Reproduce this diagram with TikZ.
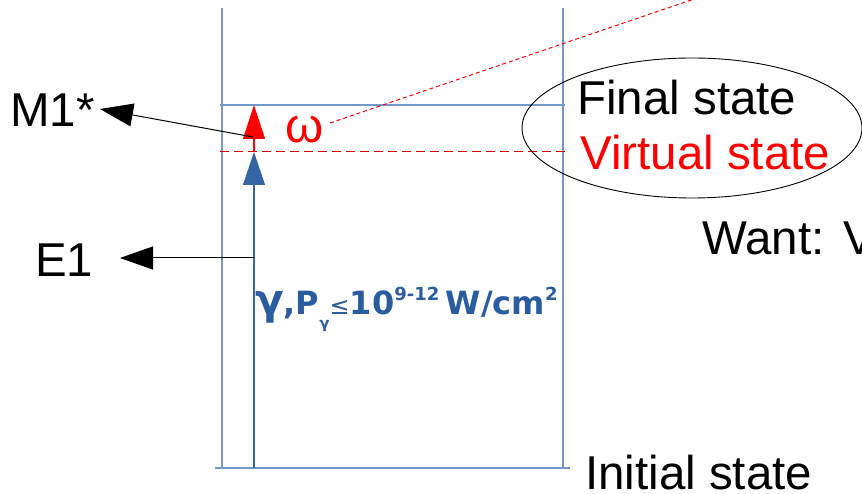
\documentclass[tikz,border=0pt]{standalone}
\usepackage{fontspec}
\setmainfont{Liberation Sans}
\newfontfamily\dvfont{DejaVu Sans}
\usetikzlibrary{arrows.meta,shapes.geometric}
\definecolor{gridblue}{RGB}{114,152,204}
\definecolor{arrblue}{RGB}{52,101,164}
\definecolor{txtblue}{RGB}{42,93,159}
\begin{document}
\begin{tikzpicture}[x=1pt,y=-1pt,
  gridline/.style={draw=gridblue,line width=1.2pt},
  lbl/.style={inner sep=0pt,anchor=base west,font=\fontsize{47.5pt}{50pt}\selectfont},
  bigtip/.style={-{Triangle[length=33pt,width=23pt]}}]
\useasboundingbox (0,0) rectangle (862,494);
\clip (0,0) rectangle (862,494);
% frame lines
\draw[gridline] (222,8) -- (222,468);
\draw[gridline] (563,8) -- (563,468);
\draw[gridline] (215,468) -- (570,468);
\draw[gridline] (220,105) -- (565,105);
\draw[red!85!black,line width=0.8pt,dash pattern=on 9pt off 5pt] (220,151) -- (565,151);
% coordinates
\coordinate (bot) at (254,468);
\coordinate (virt) at (254,152);
\coordinate (fin) at (254,105);
\coordinate (m1s) at (253,137);
\coordinate (m1tip) at (100,109);
\coordinate (e1s) at (254,258);
\coordinate (e1tip) at (120,258);
\coordinate (dotA) at (330,123);
\coordinate (dotB) at (700,-3);
% arrows
\draw[arrblue,line width=1.2pt,-{Triangle[length=33pt,width=22pt]}] (bot) -- (virt);
\draw[red,line width=1.2pt,-{Triangle[length=34pt,width=22pt]}] (virt) -- (fin);
\draw[black,line width=1pt,bigtip] (m1s) -- (m1tip);
\draw[black,line width=1pt,bigtip] (e1s) -- (e1tip);
\draw[red,line width=1pt,dash pattern=on 4pt off 3pt] (dotA) -- (dotB);
% ellipse
\node[draw,ellipse,line width=0.9pt,minimum width=340pt,minimum height=140pt,inner sep=0pt] (ell) at (692,128) {};
% labels
\node[lbl] (final) at (577,115) {Final state};
\node[lbl,text=red] (virtual) at (580,170) {Virtual state};
\node[lbl] (initial) at (585,489) {Initial state};
\node[lbl] (want) at (702,255) {Want:\hspace{0.4em}V};
\node[lbl] (m1) at (10,127) {M1*};
\node[lbl] (e1) at (35,277) {E1};
\node[inner sep=0pt,anchor=base west,text=red,font=\fontsize{49pt}{50pt}\selectfont] (omega) at (285,143) {ω};
\node[inner sep=0pt,anchor=base west,text=txtblue,font=\dvfont\bfseries\fontsize{32pt}{34pt}\selectfont] (gamma) at (255,315)
  {{\fontsize{42pt}{42pt}\selectfont γ},P\raisebox{-0.42em}{\fontsize{15pt}{15pt}\selectfont γ}{\mdseries\fontsize{24pt}{24pt}\selectfont ≤}10\raisebox{0.45em}{\fontsize{18pt}{18pt}\selectfont 9-12}\hspace{0.2em}W/cm\raisebox{0.45em}{\fontsize{18pt}{18pt}\selectfont 2}};
\end{tikzpicture}
\end{document}
